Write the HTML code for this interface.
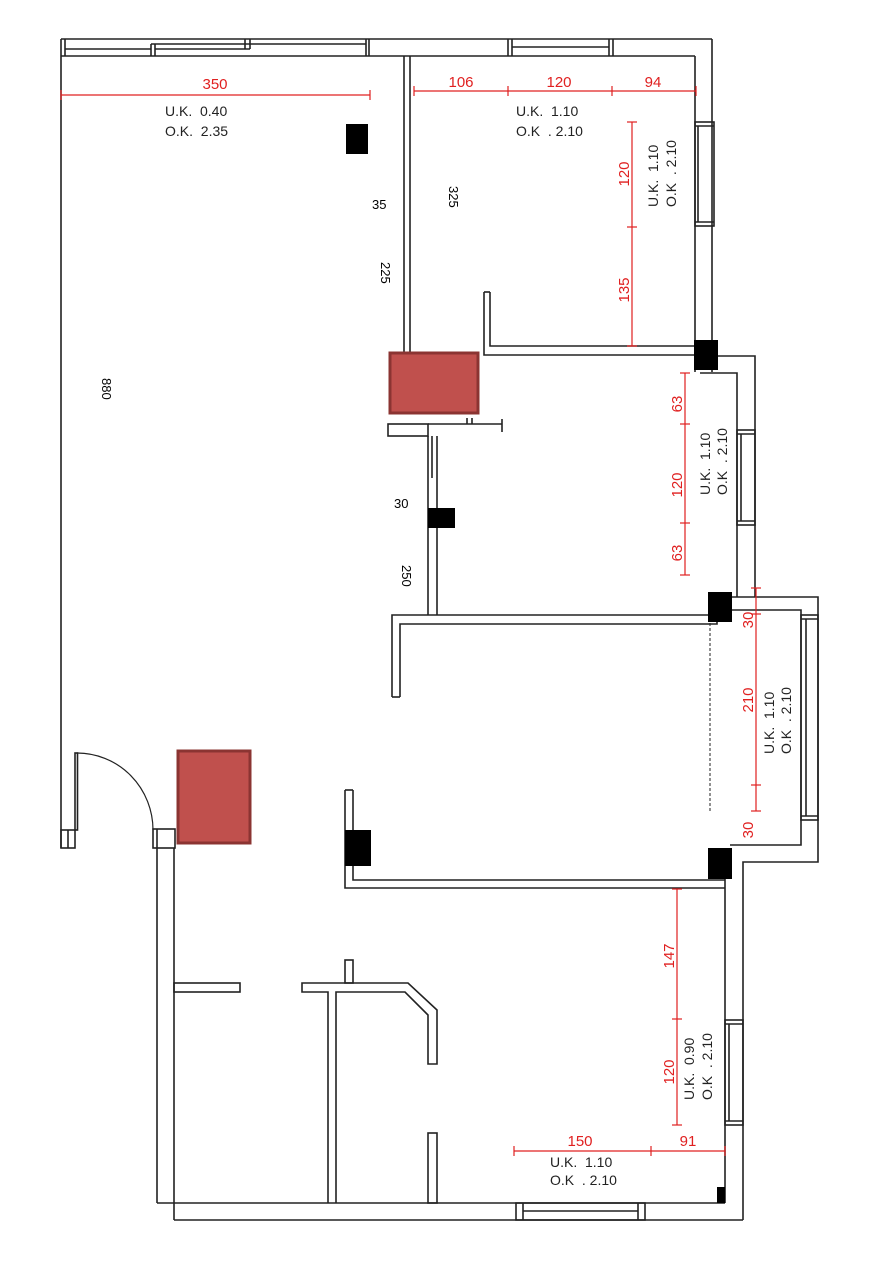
<!DOCTYPE html>
<html><head><meta charset="utf-8"><style>
html,body{margin:0;padding:0;background:#fff}
svg{display:block}
text{font-family:"Liberation Sans",sans-serif}
</style></head><body>
<svg width="884" height="1262" viewBox="0 0 884 1262" xmlns="http://www.w3.org/2000/svg">
<g fill="none" stroke="#222" stroke-width="1.6">
<!-- top wall -->
<line x1="61" y1="39" x2="712" y2="39"/>
<line x1="61" y1="56" x2="695" y2="56"/>
<line x1="61" y1="39" x2="61" y2="848"/>
<line x1="65" y1="39" x2="65" y2="56"/>
<line x1="65" y1="49" x2="151" y2="49"/>
<line x1="151" y1="44" x2="151" y2="56"/><line x1="155" y1="44" x2="155" y2="56"/>
<line x1="151" y1="44" x2="250" y2="44"/>
<line x1="155" y1="49" x2="250" y2="49"/>
<line x1="245" y1="39" x2="245" y2="49"/><line x1="250" y1="39" x2="250" y2="49"/>
<line x1="250" y1="44" x2="366" y2="44"/>
<line x1="366" y1="39" x2="366" y2="56"/><line x1="369" y1="39" x2="369" y2="56"/>
<line x1="508" y1="39" x2="508" y2="56"/><line x1="512" y1="39" x2="512" y2="56"/>
<line x1="512" y1="47" x2="609" y2="47"/>
<line x1="609" y1="39" x2="609" y2="56"/><line x1="613" y1="39" x2="613" y2="56"/>
<!-- right top wall -->
<line x1="712" y1="39" x2="712" y2="372"/>
<line x1="695" y1="56" x2="695" y2="372"/>
<rect x="695" y="122" width="19" height="104"/>
<line x1="698" y1="126" x2="698" y2="222"/><line x1="695" y1="126" x2="714" y2="126"/><line x1="695" y1="222" x2="714" y2="222"/>
<!-- interior wall 404/414 -->
<line x1="404" y1="56" x2="404" y2="352"/><line x1="410" y1="56" x2="410" y2="352"/>
<!-- wall stub 484-498 -->
<polyline points="484,292 484,355 697,355"/>
<polyline points="490,292 490,346 697,346"/>
<line x1="484" y1="292" x2="490" y2="292"/>
<!-- right mid -->
<polyline points="712,356 755,356 755,597"/>
<polyline points="700,373 737,373 737,597"/>
<rect x="737" y="430" width="18" height="95"/>
<line x1="737" y1="434" x2="755" y2="434"/><line x1="737" y1="521" x2="755" y2="521"/><line x1="741" y1="434" x2="741" y2="521"/>
<!-- balcony -->
<polyline points="730,597 818,597 818,862 743,862 743,1220"/>
<polyline points="730,610 801,610 801,845 730,845"/>
<rect x="801" y="615" width="17" height="205"/>
<line x1="801" y1="619" x2="818" y2="619"/><line x1="801" y1="816" x2="818" y2="816"/><line x1="806" y1="619" x2="806" y2="816"/>
<line x1="710" y1="623" x2="710" y2="812" stroke-dasharray="3,2" stroke-width="1"/>
<!-- wall 392 -->
<polyline points="392,697 392,615 708,615"/>
<polyline points="400,697 400,624 717,624 717,600"/>
<line x1="392" y1="697" x2="400" y2="697"/>
<!-- vertical wall 428-437 -->
<line x1="428" y1="436" x2="428" y2="615"/><line x1="437" y1="436" x2="437" y2="615"/>
<line x1="432" y1="436" x2="432" y2="478"/>
<rect x="388" y="424" width="40" height="12"/>
<line x1="428" y1="424" x2="502" y2="424"/>
<line x1="502" y1="419" x2="502" y2="432"/>
<line x1="467" y1="418" x2="467" y2="424"/><line x1="472" y1="418" x2="472" y2="424"/>
<!-- middle horizontal -->
<polyline points="345,790 345,888 725,888"/>
<polyline points="353,790 353,880 725,880"/>
<line x1="345" y1="790" x2="353" y2="790"/>
<!-- lower right -->
<line x1="725" y1="875" x2="725" y2="1203"/>
<rect x="725" y="1020" width="18" height="105"/>
<line x1="729" y1="1024" x2="729" y2="1121"/><line x1="725" y1="1024" x2="743" y2="1024"/><line x1="725" y1="1121" x2="743" y2="1121"/>
<!-- bottom -->
<line x1="157" y1="1203" x2="725" y2="1203"/>
<line x1="174" y1="1220" x2="743" y2="1220"/>
<line x1="157" y1="848" x2="157" y2="1203"/>
<line x1="174" y1="848" x2="174" y2="1220"/>
<rect x="516" y="1203" width="129" height="17"/>
<line x1="523" y1="1203" x2="523" y2="1220"/><line x1="638" y1="1203" x2="638" y2="1220"/><line x1="523" y1="1211" x2="638" y2="1211"/>
<!-- door -->
<rect x="61" y="830" width="14" height="18"/>
<line x1="68" y1="830" x2="68" y2="848"/>
<rect x="75" y="753" width="2.5" height="77"/>
<path d="M77,753 A76,77 0 0 1 153,830" stroke-width="1.2"/>
<rect x="153" y="829" width="22" height="19"/>
<line x1="157" y1="829" x2="157" y2="848"/>
<!-- lower interior -->
<rect x="174" y="983" width="66" height="9"/>
<polyline points="328,1203 328,992 302,992 302,983 408,983 437,1010 437,1064 428,1064 428,1015 405,992 336,992 336,1203"/>
<rect x="345" y="960" width="8" height="23"/>
<rect x="428" y="1133" width="9" height="70"/>
</g>
<!-- black columns -->
<g fill="#000">
<rect x="346" y="124" width="22" height="30"/>
<rect x="694" y="340" width="24" height="30"/>
<rect x="428" y="508" width="27" height="20"/>
<rect x="708" y="592" width="24" height="30"/>
<rect x="345" y="830" width="26" height="36"/>
<rect x="708" y="848" width="24" height="31"/>
<rect x="717" y="1187" width="8" height="16"/>
</g>
<!-- red boxes -->
<rect x="390" y="353" width="88" height="60" fill="#c0504d" stroke="#8b3432" stroke-width="3"/>
<rect x="178" y="751" width="72" height="92" fill="#c0504d" stroke="#8b3432" stroke-width="3"/>
<!-- red dims -->
<g stroke="#e02020" stroke-width="1.2" fill="none">
<line x1="61" y1="95" x2="370" y2="95"/><line x1="61" y1="90" x2="61" y2="100"/><line x1="370" y1="90" x2="370" y2="100"/>
<line x1="414" y1="91" x2="696" y2="91"/><line x1="414" y1="86" x2="414" y2="96"/><line x1="508" y1="86" x2="508" y2="96"/><line x1="612" y1="86" x2="612" y2="96"/><line x1="696" y1="86" x2="696" y2="96"/>
<line x1="632" y1="122" x2="632" y2="346"/><line x1="627" y1="122" x2="637" y2="122"/><line x1="627" y1="227" x2="637" y2="227"/><line x1="627" y1="346" x2="637" y2="346"/>
<line x1="685" y1="373" x2="685" y2="575"/><line x1="680" y1="373" x2="690" y2="373"/><line x1="680" y1="424" x2="690" y2="424"/><line x1="680" y1="523" x2="690" y2="523"/><line x1="680" y1="575" x2="690" y2="575"/>
<line x1="756" y1="588" x2="756" y2="811"/><line x1="751" y1="588" x2="761" y2="588"/><line x1="751" y1="614" x2="761" y2="614"/><line x1="751" y1="785" x2="761" y2="785"/><line x1="751" y1="811" x2="761" y2="811"/>
<line x1="677" y1="889" x2="677" y2="1125"/><line x1="672" y1="889" x2="682" y2="889"/><line x1="672" y1="1019" x2="682" y2="1019"/><line x1="672" y1="1125" x2="682" y2="1125"/>
<line x1="514" y1="1151" x2="725" y2="1151"/><line x1="514" y1="1146" x2="514" y2="1156"/><line x1="651" y1="1146" x2="651" y2="1156"/><line x1="725" y1="1146" x2="725" y2="1156"/>
</g>
<g fill="#e02020" font-size="15">
<text x="215" y="89" text-anchor="middle">350</text>
<text x="461" y="87" text-anchor="middle">106</text>
<text x="559" y="87" text-anchor="middle">120</text>
<text x="653" y="87" text-anchor="middle">94</text>
<text transform="translate(629,174) rotate(-90)" text-anchor="middle">120</text>
<text transform="translate(629,290) rotate(-90)" text-anchor="middle">135</text>
<text transform="translate(682,404) rotate(-90)" text-anchor="middle">63</text>
<text transform="translate(682,485) rotate(-90)" text-anchor="middle">120</text>
<text transform="translate(682,553) rotate(-90)" text-anchor="middle">63</text>
<text transform="translate(753,620) rotate(-90)" text-anchor="middle">30</text>
<text transform="translate(753,700) rotate(-90)" text-anchor="middle">210</text>
<text transform="translate(753,830) rotate(-90)" text-anchor="middle">30</text>
<text transform="translate(674,956) rotate(-90)" text-anchor="middle">147</text>
<text transform="translate(674,1072) rotate(-90)" text-anchor="middle">120</text>
<text x="580" y="1146" text-anchor="middle">150</text>
<text x="688" y="1146" text-anchor="middle">91</text>
</g>
<g fill="#222" font-size="14">
<text x="165" y="116">U.K.&#160;&#160;0.40</text>
<text x="165" y="136">O.K.&#160;&#160;2.35</text>
<text x="516" y="116">U.K.&#160;&#160;1.10</text>
<text x="516" y="136">O.K&#160;&#160;. 2.10</text>
<text transform="translate(658,207) rotate(-90)">U.K.&#160;&#160;1.10</text>
<text transform="translate(676,207) rotate(-90)">O.K&#160;&#160;. 2.10</text>
<text transform="translate(710,495) rotate(-90)">U.K.&#160;&#160;1.10</text>
<text transform="translate(727,495) rotate(-90)">O.K&#160;&#160;. 2.10</text>
<text transform="translate(774,754) rotate(-90)">U.K.&#160;&#160;1.10</text>
<text transform="translate(791,754) rotate(-90)">O.K&#160;&#160;. 2.10</text>
<text transform="translate(694,1100) rotate(-90)">U.K.&#160;&#160;0.90</text>
<text transform="translate(712,1100) rotate(-90)">O.K&#160;&#160;. 2.10</text>
<text x="550" y="1167">U.K.&#160;&#160;1.10</text>
<text x="550" y="1185">O.K&#160;&#160;. 2.10</text>
</g>
<g fill="#000" font-size="13">
<text x="372" y="209">35</text>
<text transform="translate(449,186) rotate(90)">325</text>
<text transform="translate(381,262) rotate(90)">225</text>
<text transform="translate(102,378) rotate(90)">880</text>
<text x="394" y="508">30</text>
<text transform="translate(402,565) rotate(90)">250</text>
</g>
</svg>
</body></html>
